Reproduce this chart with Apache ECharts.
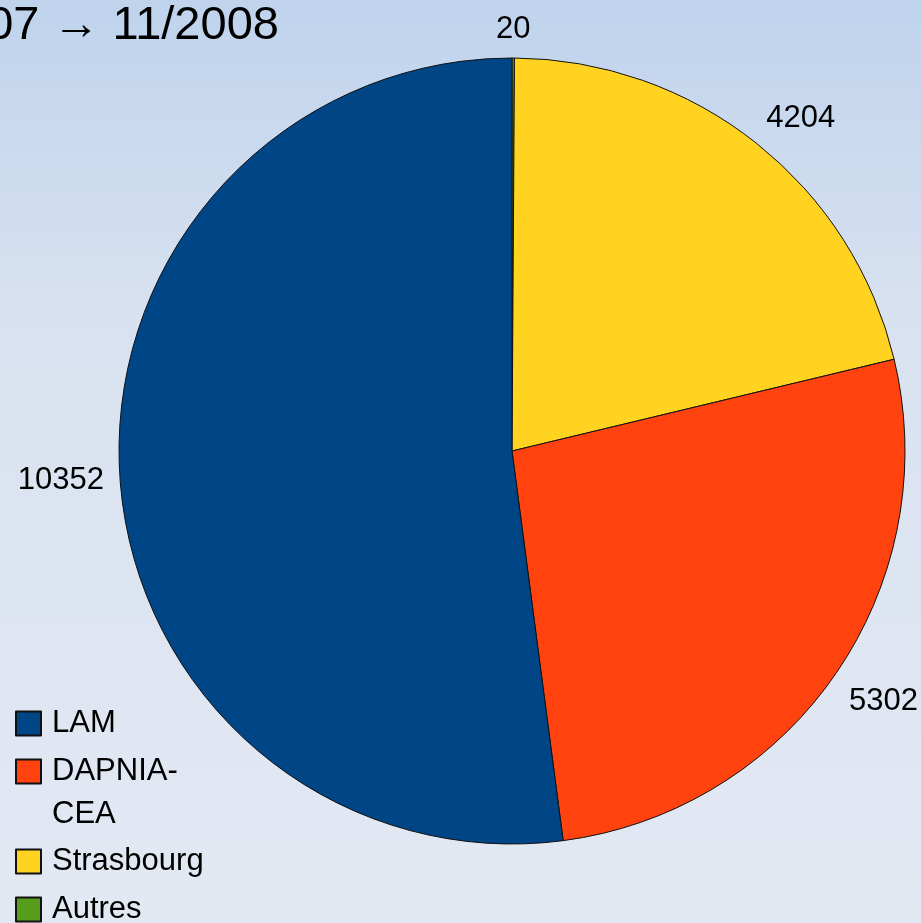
<!DOCTYPE html>
<html>
<head>
<meta charset="utf-8">
<script src="https://cdn.jsdelivr.net/npm/echarts@6.0.0/dist/echarts.min.js"></script>
<style>
  html, body { margin: 0; padding: 0; }
  #chart { width: 921px; height: 923px; }
</style>
</head>
<body>
<div id="chart"></div>
<script>
// slices, clockwise from 12 o'clock
const categories = ['Autres', 'Strasbourg', 'DAPNIA-CEA', 'LAM'];
const values = [20, 4204, 5302, 10352];
const colors = ['#579d1c', '#ffd320', '#ff420e', '#004586'];
const legendOrder = ['LAM', 'DAPNIA-CEA', 'Strasbourg', 'Autres'];
const titleText = '11/2007 \u2192 11/2008';

const FONT = '"Liberation Sans", Arial, Helvetica, sans-serif';
const CX = 512, CY = 451, RADIUS = 393;

const chart = echarts.init(document.getElementById('chart'));

// one legend per entry so the wrapped "DAPNIA-CEA" can sit like the original
// (a leading empty line keeps the first text line level with the square)
const legendTop = { 'LAM': 708, 'DAPNIA-CEA': 707, 'Strasbourg': 846, 'Autres': 894 };
const legends = legendOrder.map(function (name) {
    const wrapped = name.indexOf('-') > 0;
    return {
        data: [name],
        orient: 'vertical',
        left: 15,
        top: legendTop[name],
        padding: 0,
        icon: 'rect',
        itemWidth: 25,
        itemHeight: 24,
        selectedMode: false,
        formatter: function (n) {
            return wrapped ? '\n' + n.replace('-', '-\n') : n;
        },
        textStyle: {
            fontFamily: FONT,
            fontSize: 31,
            color: '#000',
            lineHeight: wrapped ? 43 : 24,
            padding: [0, 0, 0, 6]
        }
    };
});

chart.setOption({
    animation: false,
    backgroundColor: {
        type: 'linear', x: 0, y: 0, x2: 0, y2: 1,
        colorStops: [
            { offset: 0, color: '#bfd3ed' },
            { offset: 0.35, color: '#d9e2f0' },
            { offset: 1, color: '#e3e9f3' }
        ]
    },
    title: {
        text: titleText,
        left: -127,
        top: 3,
        padding: 0,
        textStyle: { fontFamily: FONT, fontSize: 47, fontWeight: 'normal', color: '#000', lineHeight: 47 }
    },
    legend: legends,
    series: [{
        type: 'pie',
        center: [CX, CY],
        radius: [0, RADIUS],
        startAngle: 90,
        clockwise: true,
        avoidLabelOverlap: false,
        silent: true,
        itemStyle: { borderColor: '#111', borderWidth: 1 },
        label: {
            show: true,
            position: 'outside',
            formatter: '{c}',
            fontFamily: FONT,
            fontSize: 31,
            color: '#000',
            distanceToLabelLine: 0
        },
        labelLine: { show: false, length: 16, length2: 0 },
        labelLayout: function (p) {
            const r = p.labelRect;
            const ax = p.align === 'right' ? r.x + r.width : r.x;
            const ay = r.y + r.height / 2;
            const nx = (ax - CX) / (RADIUS + 16);
            const ny = (ay - CY) / (RADIUS + 16);
            let dx = 0, dy = 3;
            if (Math.abs(nx) < 0.2) dx = p.align === 'right' ? r.width / 2 : -r.width / 2;
            if (Math.abs(ny) > 0.3) dy += ny > 0 ? r.height / 2 : -r.height / 2;
            return { dx: dx, dy: dy };
        },
        data: categories.map(function (c, i) {
            return { name: c, value: values[i], itemStyle: { color: colors[i] } };
        })
    }]
});
</script>
</body>
</html>
